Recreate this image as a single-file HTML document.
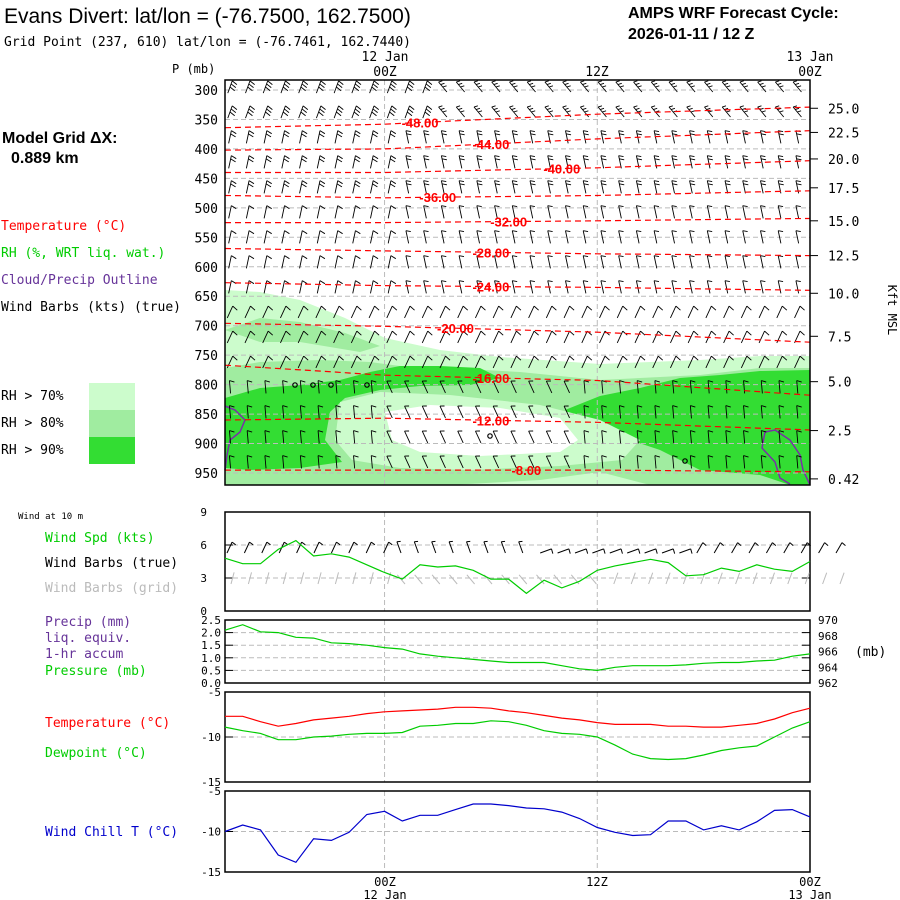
<!DOCTYPE html>
<html><head><meta charset="utf-8"><style>
html,body{margin:0;padding:0;background:#fff;width:900px;height:900px;overflow:hidden}
svg{display:block;font-family:"Liberation Sans",sans-serif}
.m{font-family:"DejaVu Sans Mono","Liberation Mono",monospace}
</style></head><body>
<svg id="chart" width="900" height="900" viewBox="0 0 900 900">
<text x="4" y="23" font-size="21">Evans Divert:  lat/lon = (-76.7500, 162.7500)</text>
<text x="4" y="46" font-size="13" class="m">Grid Point (237, 610) lat/lon = (-76.7461, 162.7440)</text>
<text x="628" y="18" font-size="16" font-weight="bold">AMPS WRF Forecast Cycle:</text>
<text x="628" y="39" font-size="16" font-weight="bold">2026-01-11 / 12  Z</text>
<text x="2" y="143" font-size="16" font-weight="bold">Model Grid ΔX:</text>
<text x="11" y="163" font-size="16" font-weight="bold">0.889 km</text>
<g class="m" font-size="13">
<text x="1" y="230" fill="#ff0000">Temperature (°C)</text>
<text x="1" y="257" fill="#00cc00">RH (%, WRT liq. wat.)</text>
<text x="1" y="284" fill="#663399">Cloud/Precip Outline</text>
<text x="1" y="311" fill="#000">Wind Barbs (kts) (true)</text>
<text x="1" y="400">RH &gt; 70%</text>
<text x="1" y="427">RH &gt; 80%</text>
<text x="1" y="454">RH &gt; 90%</text>
<text x="172" y="73" font-size="12">P (mb)</text>
<text x="888" y="310" font-size="12" transform="rotate(90 888 310)" text-anchor="middle">Kft MSL</text>
<text x="18" y="519" font-size="9">Wind at 10 m</text>
<text x="45" y="542" fill="#00cc00">Wind Spd (kts)</text>
<text x="45" y="567" fill="#000">Wind Barbs (true)</text>
<text x="45" y="592" fill="#bbbbbb">Wind Barbs (grid)</text>
<text x="45" y="626" fill="#663399">Precip (mm)</text>
<text x="45" y="642" fill="#663399">liq. equiv.</text>
<text x="45" y="658" fill="#663399">1-hr accum</text>
<text x="45" y="675" fill="#00cc00">Pressure (mb)</text>
<text x="45" y="727" fill="#ff0000">Temperature (°C)</text>
<text x="45" y="757" fill="#00cc00">Dewpoint (°C)</text>
<text x="45" y="836" fill="#0000cc">Wind Chill T (°C)</text>
<text x="855" y="656">(mb)</text>
</g>
<rect x="89" y="383" width="46" height="27" fill="#ccfccc"/>
<rect x="89" y="410" width="46" height="27" fill="#a0eca0"/>
<rect x="89" y="437" width="46" height="27" fill="#33dd33"/>
<g id="upper"></g>
<g id="lower"></g>
</svg>
<script>
// ---- data ----
const hours = 34; // hourly from 15Z 11 Jan to 00Z 13 Jan
const pLevels = [300,350,400,450,500,550,600,650,700,750,800,850,900,950];
const kftLabels = ["25.0","22.5","20.0","17.5","15.0","12.5","10.0","7.5","5.0","2.5","0.42"];
const kftPress = [331,372,417,466,522,581,645,718,795,878,960];
const contourLevels = [-48,-44,-40,-36,-32,-28,-24,-20,-16,-12,-8];
const contourTimes = [0,9,21,33];
const contourP = [[364,358,341,329],[402,400,383,369],[440,440,432,420],[479,483,479,471],[525,525,522,518],[569,573,578,581],[627,632,635,640],[696,701,711,728],[767,784,793,818],[860,857,864,877],[945,945,945,948]];
const contourLabelT = [11,15,19,12,16,15,15,13,15,15,17];
const windSpd = [4.8,4.3,4.3,5.6,6.4,5.0,5.2,4.9,4.2,3.5,2.9,4.2,4.0,4.1,3.7,2.9,2.9,1.6,2.8,2.1,2.7,3.7,4.1,4.4,4.7,4.4,3.2,3.3,3.9,3.6,4.2,3.8,3.6,4.5];
const pressure = [968.7,969.4,968.5,968.4,967.8,967.7,967.1,967.0,966.8,966.5,966.3,965.7,965.4,965.2,965.0,964.8,964.6,964.6,964.6,964.2,963.8,963.6,964.0,964.2,964.2,964.2,964.3,964.5,964.6,964.6,964.8,964.9,965.4,965.7];
const temperature = [-7.7,-7.7,-8.3,-8.8,-8.5,-8.1,-7.9,-7.7,-7.4,-7.2,-7.1,-7.0,-6.9,-6.7,-6.7,-6.8,-7.1,-7.3,-7.6,-7.9,-8.1,-8.4,-8.6,-8.6,-8.6,-8.8,-8.8,-8.9,-8.9,-8.7,-8.5,-8.0,-7.3,-6.8];
const dewpoint = [-8.9,-9.3,-9.6,-10.3,-10.3,-10.0,-9.9,-9.7,-9.6,-9.6,-9.5,-8.8,-8.7,-8.5,-8.5,-8.2,-8.3,-8.7,-9.3,-9.6,-9.7,-10.0,-10.9,-11.9,-12.4,-12.5,-12.4,-12.0,-11.5,-11.2,-11.0,-10.0,-9.0,-8.3];
const windChill = [-10.0,-9.2,-9.8,-12.9,-13.8,-10.9,-11.1,-10.1,-7.9,-7.5,-8.7,-8.0,-8.0,-7.3,-6.6,-6.6,-6.8,-7.1,-7.2,-7.6,-8.4,-9.5,-10.1,-10.5,-10.4,-8.7,-8.7,-9.8,-9.3,-9.8,-8.8,-7.4,-7.3,-8.2];
const spdTicks = [0,3,6,9];
const precipTicks = ["0.0","0.5","1.0","1.5","2.0","2.5"];
const presTicks = [962,964,966,968,970];
const tempTicks = [-5,-10,-15];

// ---- helpers ----
const NS="http://www.w3.org/2000/svg";
const X0=225,X1=810;
const xt=i=>X0+i*(X1-X0)/(hours-1);
const yp=p=>90+(p-300)*(473-90)/650;
const up=document.getElementById('upper'), lo=document.getElementById('lower');
function mk(tag,at,par){const e=document.createElementNS(NS,tag);for(const k in at)e.setAttribute(k,at[k]);par.appendChild(e);return e;}

// ---- upper panel fills ----
const fills=[
 ["#ccfccc","M225,290 L260,292 L300,300 L345,318 L385,338 L440,350 L500,357 L600,364 L700,360 L760,356 L810,356 L810,485 L225,485 Z","rh70-area"],
 ["#a0eca0","M225,368 L260,362 L320,360 L370,362 L400,366 L450,368 L520,372 L600,380 L700,375 L760,368 L810,368 L810,485 L650,485 L600,472 L540,480 L450,485 L225,485 Z","rh80-area"],
 ["#a0eca0","M225,330 L260,318 L300,322 L345,333 L380,346 L360,352 L300,342 L260,342 Z","rh80-area-upper"],
 ["#33dd33","M225,398 L260,388 L300,385 L340,380 L370,372 L400,366 L440,366 L480,368 L500,378 L470,385 L420,386 L380,390 L345,398 L330,412 L325,440 L342,462 L300,468 L250,470 L225,468 Z","rh90-area-left"],
 ["#33dd33","M565,410 L600,396 L640,388 L680,378 L720,375 L760,371 L810,370 L810,485 L790,485 L760,475 L700,470 L660,450 L630,440 L600,430 L575,420 Z","rh90-area-right"],
 ["#ccfccc","M340,402 L380,392 L450,395 L540,405 L600,420 L640,440 L622,460 L560,466 L470,470 L400,468 L352,460 L335,440 Z","rh70-ring"],
 ["#ffffff","M385,412 L430,405 L500,408 L560,418 L578,440 L560,452 L480,456 L420,452 L392,440 Z","dry-hole"]
];
fills.forEach(f=>{const e=mk('path',{d:f[1],fill:f[0]},up);

});
[["M225,406 L235,410 L245,420 L240,432 L230,440 L227,455 L225,470","cloud-outline-left"],["M810,485 L803,470 L800,455 L790,440 L775,430 L765,432 L762,448 L775,462 L780,478 L790,484","cloud-outline-right"]].forEach(c=>{
const e=mk('path',{d:c[0],fill:'none',stroke:'#7a2fa8','stroke-width':1.5},up);

});

// gridlines
pLevels.forEach(p=>{const e=mk('line',{x1:X0,x2:X1,y1:yp(p),y2:yp(p),stroke:'#bbb','stroke-dasharray':'5,3'},up);


const t=mk('text',{x:218,y:yp(p)+5,'font-size':13,'text-anchor':'end',class:'m'},up);t.textContent=p;

});
[9,21].forEach(i=>{const e=mk('line',{x1:xt(i),x2:xt(i),y1:80,y2:485,stroke:'#bbb','stroke-dasharray':'5,3'},up);

});
kftLabels.forEach((k,i)=>{const t=mk('text',{x:828,y:yp(kftPress[i])+5,'font-size':13,class:'m'},up);t.textContent=k;


mk('line',{x1:810,x2:818,y1:yp(kftPress[i]),y2:yp(kftPress[i]),stroke:'#000'},up);});

// wind barbs (upper)
for(let r=0;r<16;r++){const y=87+r*25;
 for(let i=0;i<hours;i++){const x=xt(i)+5;if(x>806)continue;
  let ang=r<2?(i<12?20:-40):(r<9?(i<10?12:-12):(r<12?25:-5));
  if(r>=12&&i>8&&i<20)ang=-25;
  const a=ang*Math.PI/180,L=13;
  const bx0=x-Math.sin(a)*L/2,by0=y+Math.cos(a)*L/2;
  const tx=x+Math.sin(a)*L/2,ty=y-Math.cos(a)*L/2;
  const g=mk('g',{stroke:'#000','stroke-width':0.9,fill:'none'},up);
  
  
  mk('line',{x1:bx0,y1:by0,x2:tx,y2:ty},g);
  const nb=r<2?3:(r<5?2:1);
  for(let b=0;b<nb;b++){const f=b*0.25;const bx=tx+(bx0-tx)*f,by=ty+(by0-ty)*f;
   mk('line',{x1:bx,y1:by,x2:bx+Math.cos(a)*5,y2:by+Math.sin(a)*5+2},g);}
 }}

// temperature contours
contourLevels.forEach((lv,k)=>{let d='';for(let i=0;i<hours;i++){
 let j=0;while(j<contourTimes.length-2&&i>contourTimes[j+1])j++;
 const t0=contourTimes[j],t1=contourTimes[j+1],f=(i-t0)/(t1-t0);
 const p=contourP[k][j]+(contourP[k][j+1]-contourP[k][j])*f;
 d+=(i?'L':'M')+xt(i).toFixed(1)+','+yp(p).toFixed(1)+' ';}
 const e=mk('path',{d:d,fill:'none',stroke:'#ff0000','stroke-dasharray':'6,4','stroke-width':1.2},up);
 
 
 const ti=contourLabelT[k];let j=0;while(j<contourTimes.length-2&&ti>contourTimes[j+1])j++;
 const f=(ti-contourTimes[j])/(contourTimes[j+1]-contourTimes[j]);
 const p=contourP[k][j]+(contourP[k][j+1]-contourP[k][j])*f;
 const t=mk('text',{x:xt(ti),y:yp(p)+5,fill:'#ff0000','font-size':13,'font-weight':'bold','text-anchor':'middle'},up);
 t.textContent=lv.toFixed(2);
 
 });
[[295,385],[313,385],[331,385],[367,385],[490,436],[685,461]].forEach(c=>{const e=mk('circle',{cx:c[0],cy:c[1],r:2.2,fill:'none',stroke:'#000','stroke-width':1.2},up);

});
const fr=mk('rect',{x:X0,y:80,width:X1-X0,height:405,fill:'none',stroke:'#000','stroke-width':1.5},up);


[[385,"12 Jan",61,"00Z"],[597,"",0,"12Z"],[810,"13 Jan",61,"00Z"]].forEach(a=>{
 if(a[1]){const t=mk('text',{x:a[0],y:a[2],'font-size':13,'text-anchor':'middle',class:'m'},up);t.textContent=a[1];
 
 }
 const t2=mk('text',{x:a[0],y:76,'font-size':13,'text-anchor':'middle',class:'m'},up);t2.textContent=a[3];
 
 });

// ---- lower panels ----
function panel(y0,y1,name){[9,21].forEach(i=>{const e=mk('line',{x1:xt(i),x2:xt(i),y1:y0,y2:y1,stroke:'#bbb','stroke-dasharray':'5,3'},lo);
 
 });
 const r=mk('rect',{x:X0,y:y0,width:X1-X0,height:y1-y0,fill:'none',stroke:'#000','stroke-width':1.5},lo);
 
 }
function hgrid(y){const e=mk('line',{x1:X0,x2:X1,y1:y,y2:y,stroke:'#bbb','stroke-dasharray':'5,3'},lo);
 
 
 mk('line',{x1:X0,x2:X0+8,y1:y,y2:y,stroke:'#000'},lo);mk('line',{x1:X1-8,x2:X1,y1:y,y2:y,stroke:'#000'},lo);}
function lbl(x,y,s,anchor){const t=mk('text',{x:x,y:y,'font-size':11,'text-anchor':anchor||'end',class:'m'},lo);t.textContent=s;
 
 }
function series(arr,ys,color,name){let d='';arr.forEach((v,i)=>{d+=(i?'L':'M')+xt(i).toFixed(1)+','+ys(v).toFixed(1)+' ';});
 const e=mk('path',{d:d,fill:'none',stroke:color,'stroke-width':1.2},lo);
 
 }
// wind panel
const ysp=v=>611-v*(611-512)/9;
spdTicks.forEach(v=>{if(v>0&&v<9)hgrid(ysp(v));lbl(207,ysp(v)+4,v);});
panel(512,611,'wind-panel');
for(let i=0;i<hours+2;i++){const x=X0+2+i*17.4;
 const g=mk('g',{stroke:'#000','stroke-width':1},lo);
 
 
 const a=(i<10?25:(i<18?-20:(i<27?70:30)))*Math.PI/180;
 const tx=x+Math.sin(a)*12,ty=553-Math.cos(a)*12;
 mk('line',{x1:x,y1:553,x2:tx,y2:ty},g);
 mk('line',{x1:tx,y1:ty,x2:tx+Math.cos(a)*4,y2:ty+Math.sin(a)*4+1},g);
 const g2=mk('g',{stroke:'#bbb','stroke-width':1},lo);
 
 
 const b=(i<10?15:(i<22?-40:20))*Math.PI/180;
 mk('line',{x1:x+4,y1:584,x2:x+4+Math.sin(b)*12,y2:584-Math.cos(b)*12},g2);}
series(windSpd,ysp,'#00cc00','wind-speed-line');
// precip/pressure panel
const ypr=v=>683-(v-962)*(683-620)/8;
precipTicks.forEach((s,i)=>{const y=683-i*(683-620)/5;if(i>0&&i<5)hgrid(y);lbl(221,y+4,s);});
presTicks.forEach(v=>{lbl(818,ypr(v)+4,v,'start');});
panel(620,683,'precip-pressure-panel');
series(pressure,ypr,'#00cc00','pressure-line');
// temp panel
const yt=v=>692+(-5-v)*(782-692)/10;
tempTicks.forEach(v=>{if(v==-10)hgrid(yt(v));lbl(221,yt(v)+4,v);});
panel(692,782,'temperature-panel');
series(temperature,yt,'#ff0000','temperature-line');
series(dewpoint,yt,'#00cc00','dewpoint-line');
// wind chill panel
const yw=v=>791+(-5-v)*(872-791)/10;
tempTicks.forEach(v=>{if(v==-10)hgrid(yw(v));lbl(221,yw(v)+4,v);});
panel(791,872,'windchill-panel');
series(windChill,yw,'#0000cc','windchill-line');
[[385,"00Z","12 Jan"],[597,"12Z",""],[810,"00Z","13 Jan"]].forEach(a=>{
 const t=mk('text',{x:a[0],y:886,'font-size':12,'text-anchor':'middle',class:'m'},lo);t.textContent=a[1];
 
 
 if(a[2]){const t2=mk('text',{x:a[0],y:899,'font-size':12,'text-anchor':'middle',class:'m'},lo);t2.textContent=a[2];
 
 }});
</script>
</body></html>
